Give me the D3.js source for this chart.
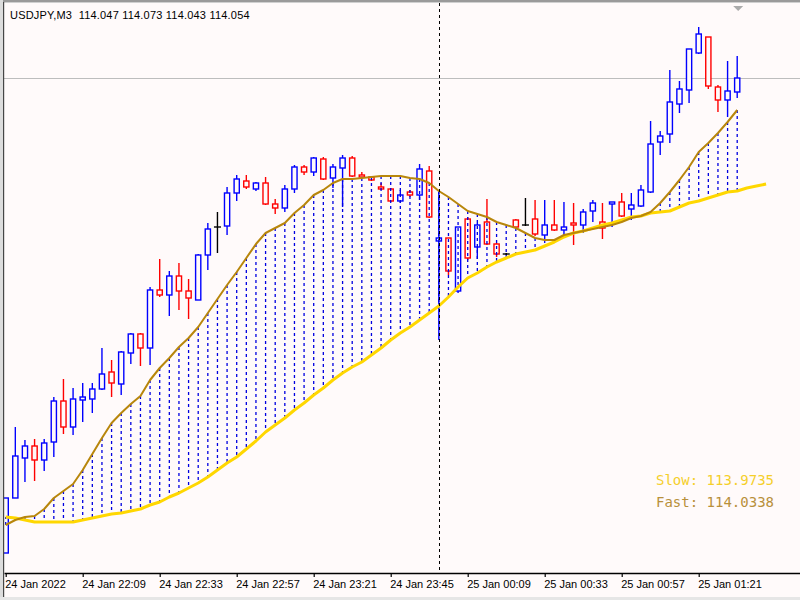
<!DOCTYPE html>
<html><head><meta charset="utf-8">
<script src="https://cdn.jsdelivr.net/npm/d3@7"></script>
<style>html,body{margin:0;padding:0;background:#fffafa;} svg{display:block}</style>
</head><body><svg id="c" width="800" height="600"></svg>
<script>
// ---- data (USDJPY, M3) ----
const symbolTitle = "USDJPY,M3\u00a0\u00a0114.047 114.073 114.043 114.054";
const tickBars = [0, 8, 16, 24, 32, 40, 48, 56, 64, 72];
const tickLabels = ["24 Jan 2022","24 Jan 22:09","24 Jan 22:33","24 Jan 22:57","24 Jan 23:21",
  "24 Jan 23:45","25 Jan 00:09","25 Jan 00:33","25 Jan 00:57","25 Jan 01:21"];
const daySeparatorBar = 45; // 25 Jan 00:00

const open = [113.8165,113.844,113.864,113.870,113.863,113.872,113.8925,113.8795,113.893,113.8935,
113.8985,113.907,113.901,113.9165,113.926,113.919,113.948,113.9455,113.955,113.9475,
113.943,113.9655,113.9795,113.980,113.9965,114.0025,113.9985,114.0015,113.991,113.989,
113.9985,114.0095,114.007,114.0135,114.004,114.009,114.014,114.0055,114.0045,113.9995,
113.9985,113.9925,113.997,113.9955,114.0075,113.9725,113.974,113.9475,113.9835,113.9695,
113.982,113.971,113.966,113.983,113.9805,113.9835,113.9755,113.9805,113.978,113.9815,
113.9805,113.9875,113.982,113.991,113.992,113.9885,113.990,113.997,114.022,114.026,
114.041,114.048,114.0665,114.0745,114.0495,114.043,114.047];
const high = [113.844,113.8795,113.873,113.8735,113.8735,113.8945,113.9035,113.899,113.9015,113.9015,
113.919,113.913,113.9175,113.9265,113.9265,113.9495,113.9635,113.9575,113.9615,113.9535,
113.966,113.9815,113.987,113.9995,114.0055,114.0055,114.002,114.0045,113.9935,114.0005,
114.0105,114.0105,114.0145,114.0145,114.011,114.0155,114.015,114.007,114.005,114.0015,
113.999,113.998,113.998,114.011,114.010,113.997,113.974,113.9795,113.9845,113.9815,
113.9935,113.9715,113.9665,113.9835,113.994,113.993,113.993,113.993,113.992,113.9915,
113.9885,113.993,113.9915,113.992,113.9965,113.9965,114.0005,114.0325,114.0275,114.058,
114.0525,114.0685,114.0795,114.0745,114.0505,114.0625,114.065];
const low = [113.8165,113.844,113.852,113.8525,113.8575,113.8645,113.876,113.8755,113.882,113.8865,
113.898,113.8945,113.8955,113.911,113.910,113.9105,113.9445,113.935,113.938,113.9335,
113.943,113.958,113.9665,113.9755,113.9925,113.9985,113.9975,113.9905,113.986,113.987,
113.9965,114.0055,114.005,114.003,113.999,113.9895,114.0045,114.004,114.0025,113.998,
113.992,113.9915,113.9945,113.993,113.984,113.923,113.9555,113.9465,113.963,113.9635,
113.9705,113.9645,113.9655,113.9795,113.980,113.975,113.973,113.9775,113.9755,113.9705,
113.9765,113.982,113.9735,113.9795,113.9845,113.983,113.9895,113.9965,114.0155,114.0215,
114.0365,114.0415,114.066,114.0485,114.037,114.0345,114.044];
const close = [113.844,113.865,113.870,113.863,113.8715,113.8925,113.8795,113.8935,113.8945,113.8985,
113.906,113.9015,113.917,113.926,113.919,113.948,113.9455,113.955,113.9475,113.944,
113.9655,113.9785,113.9795,113.9965,114.0035,113.9995,114.0015,113.991,113.989,113.9985,
114.0095,114.007,114.014,114.0035,114.0095,114.014,114.005,114.0045,114.003,113.9985,
113.9925,113.9955,113.9955,114.0085,113.9845,113.974,113.9575,113.9795,113.964,113.9805,
113.971,113.966,113.966,113.9795,113.9805,113.976,113.9805,113.978,113.9795,113.9805,
113.987,113.9915,113.979,113.992,113.985,113.9905,113.998,114.021,114.025,114.042,
114.0485,114.0685,114.076,114.050,114.043,114.0475,114.054];
const fastMA = [113.8305,113.833,113.8345,113.835,113.8385,113.844,113.8475,113.851,113.858,113.866,
113.874,113.8815,113.8865,113.891,113.895,113.903,113.909,113.914,113.9195,113.924,
113.9295,113.9365,113.9435,113.9505,113.957,113.964,113.971,113.9765,113.979,113.9815,
113.9865,113.9905,113.9955,113.998,114.0015,114.0035,114.0035,114.004,114.0045,114.005,
114.005,114.005,114.004,114.0035,114.0015,113.9975,113.9945,113.991,113.9875,113.986,
113.9845,113.982,113.9805,113.979,113.9765,113.974,113.973,113.973,113.9755,113.9765,
113.9775,113.9785,113.9795,113.9805,113.982,113.984,113.985,113.987,113.9915,113.997,
114.003,114.0095,114.017,114.0215,114.0265,114.032,114.038];
const slowMA = [113.8345,113.834,113.833,113.832,113.832,113.832,113.832,113.832,113.833,113.834,
113.835,113.836,113.8365,113.8375,113.8385,113.8405,113.842,113.8445,113.8465,113.849,
113.8515,113.8545,113.858,113.8615,113.8645,113.8685,113.8725,113.877,113.8805,113.884,
113.888,113.8915,113.8955,113.899,113.903,113.9065,113.9095,113.912,113.9155,113.919,
113.923,113.9265,113.9295,113.933,113.9365,113.940,113.9445,113.9495,113.954,113.9565,
113.9595,113.962,113.964,113.966,113.967,113.968,113.970,113.972,113.9745,113.9765,
113.9775,113.979,113.9805,113.9815,113.983,113.9845,113.985,113.9865,113.987,113.9875,
113.9895,113.9915,113.9925,113.994,113.9955,113.997,113.9975,113.999,114.000,114.001];
const legendSlow = "Slow: 113.9735";
const legendFast = "Fast: 114.0338";

// ---- styles ----
const BG = "#fffafa", BULL = "#0000ff", BEAR = "#ff0000", DOJI = "#000000";
const FASTC = "#b8860b", SLOWC = "#ffd700", HISTC = "#0000e0";

const svg = d3.select("#c");
const W = 800, H = 600, AXIS_Y = 573;
const x = d3.scaleLinear().domain([-0.1766, 82.524]).range([4, 800]);
const y = d3.scaleLinear().domain([113.806, 114.093]).range([574, 0]);

svg.append("rect").attr("width", W).attr("height", H).attr("fill", BG);
const defs = svg.append("defs");
defs.append("clipPath").attr("id", "clip").append("rect")
  .attr("x", 4).attr("y", 3).attr("width", 796).attr("height", AXIS_Y - 3);

const plot = svg.append("g").attr("clip-path", "url(#clip)");

// bid line
const bidY = Math.round(y(close[close.length - 1])) + 0.5;
plot.append("line").attr("x1", 4).attr("x2", 800).attr("y1", bidY).attr("y2", bidY)
  .attr("stroke", "#bdbdbd").attr("stroke-width", 1);

// day separator
const sepX = Math.round(x(daySeparatorBar)) + 0.5;
svg.append("line").attr("x1", sepX).attr("x2", sepX).attr("y1", 3).attr("y2", AXIS_Y)
  .attr("stroke", "#000").attr("stroke-width", 1).attr("stroke-dasharray", "3,3");

// candles
const bars = d3.range(open.length).map(i => ({i, o: open[i], h: high[i], l: low[i], c: close[i]}));
const colorOf = d => d.c > d.o ? BULL : (d.c < d.o ? BEAR : DOJI);
const cg = plot.append("g");
cg.selectAll("line.wick").data(bars).join("line").attr("class", "wick")
  .attr("x1", d => x(d.i)).attr("x2", d => x(d.i))
  .attr("y1", d => y(d.h)).attr("y2", d => y(d.l))
  .attr("stroke", colorOf).attr("stroke-width", 1.4);
cg.selectAll("rect.body").data(bars.filter(d => d.c !== d.o)).join("rect").attr("class", "body")
  .attr("x", d => x(d.i) - 2.6).attr("width", 5.2)
  .attr("y", d => y(Math.max(d.o, d.c)))
  .attr("height", d => Math.max(1, Math.abs(y(d.o) - y(d.c))))
  .attr("fill", BG).attr("stroke", colorOf).attr("stroke-width", 1.4);
cg.selectAll("line.doji").data(bars.filter(d => d.c === d.o)).join("line").attr("class", "doji")
  .attr("x1", d => x(d.i) - 3.5).attr("x2", d => x(d.i) + 3.5)
  .attr("y1", d => y(d.o)).attr("y2", d => y(d.o))
  .attr("stroke", DOJI).attr("stroke-width", 1.4);

// histogram between fast and slow MA
plot.append("g").selectAll("line").data(fastMA).join("line")
  .attr("x1", (d, i) => x(i)).attr("x2", (d, i) => x(i))
  .attr("y1", d => y(d)).attr("y2", (d, i) => y(slowMA[i]))
  .attr("stroke", HISTC).attr("stroke-width", 1.3).attr("stroke-dasharray", "3,3");

// MA lines
const line = d3.line().x((d, i) => x(i)).y(d => y(d));
plot.append("path").datum(slowMA).attr("d", line).attr("fill", "none")
  .attr("stroke", SLOWC).attr("stroke-width", 3).attr("stroke-linejoin", "round");
plot.append("path").datum(fastMA).attr("d", line).attr("fill", "none")
  .attr("stroke", FASTC).attr("stroke-width", 2).attr("stroke-linejoin", "round");

// axis
const axis = d3.axisBottom(x).tickValues(tickBars)
  .tickFormat((d, k) => tickLabels[k]).tickSize(4).tickSizeOuter(0);
const ag = svg.append("g").attr("transform", `translate(0,${AXIS_Y})`).call(axis);
ag.select(".domain").attr("stroke", "#000").attr("stroke-width", 1.3);
ag.selectAll(".tick line").attr("stroke", "#000").attr("stroke-width", 1.2);
ag.selectAll(".tick text").attr("text-anchor", "start").attr("x", -1).attr("y", 15).attr("dy", 0)
  .attr("fill", "#000").style("font", "11px 'Liberation Sans', Arial, sans-serif");

// frame
svg.append("rect").attr("x", 0).attr("y", 0).attr("width", W).attr("height", 2).attr("fill", "#9a9a9a");
svg.append("rect").attr("x", 0).attr("y", 2).attr("width", W).attr("height", 1).attr("fill", "#d0d0d0");
svg.append("rect").attr("x", 0).attr("y", 0).attr("width", 3).attr("height", H).attr("fill", "#dcdcdc");
svg.append("rect").attr("x", 3).attr("y", 2).attr("width", 1.2).attr("height", 595).attr("fill", "#454545");
svg.append("rect").attr("x", 0).attr("y", 597).attr("width", W).attr("height", 3).attr("fill", "#e6e6e6");

// shift marker
const mx = x(open.length - 1) + 1;
svg.append("path").attr("d", `M${mx - 5},6L${mx + 5},6L${mx},11Z`).attr("fill", "#ababab");

// title
svg.append("text").attr("x", 10).attr("y", 19)
  .style("font", "11px 'Liberation Sans', Arial, sans-serif").style("letter-spacing", "0.2px")
  .attr("fill", "#000").text(symbolTitle);

// legend
svg.append("text").attr("x", 656).attr("y", 485).attr("fill", "#f5cf2a")
  .style("font", "14px 'DejaVu Sans Mono', monospace").text(legendSlow);
svg.append("text").attr("x", 656).attr("y", 507).attr("fill", "#b8903a")
  .style("font", "14px 'DejaVu Sans Mono', monospace").text(legendFast);
</script></body></html>
